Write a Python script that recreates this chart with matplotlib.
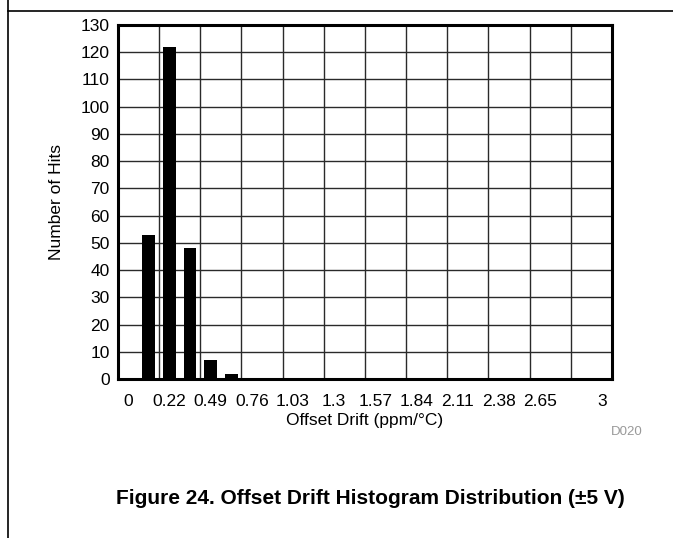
import matplotlib
matplotlib.use("Agg")
import matplotlib.pyplot as plt
from matplotlib.lines import Line2D
import numpy as np

plt.rcParams['font.family'] = ['Liberation Sans', 'DejaVu Sans']

# Histogram bins (24 categories), hit counts
counts = [0, 53, 122, 48, 7, 2, 0, 0, 0, 0, 0, 0,
          0, 0, 0, 0, 0, 0, 0, 0, 0, 0, 0, 0]
tick_labels = ['0', '0.22', '0.49', '0.76', '1.03', '1.3', '1.57',
               '1.84', '2.11', '2.38', '2.65', '3']
tick_bins = [0, 2, 4, 6, 8, 10, 12, 14, 16, 18, 20, 23]
y_ticks = list(range(0, 131, 10))

fig = plt.figure(figsize=(6.73, 5.38), dpi=100)
ax = fig.add_axes([118/673, 1 - 379/538, 494/673, 354/538])

x = np.arange(len(counts))
ax.bar(x, counts, width=0.62, color='black', zorder=3)

ax.set_xlim(-0.5, len(counts) - 0.5)
ax.set_ylim(0, 130)
ax.set_yticks(y_ticks)
ax.set_xticks(tick_bins)
ax.set_xticklabels(tick_labels)
ax.tick_params(axis='both', length=0, labelsize=12.5)
ax.tick_params(axis='x', pad=10.5)
ax.tick_params(axis='y', pad=6)

for yv in y_ticks[1:-1]:
    ax.axhline(yv, color='#2a2a2a', lw=1.0, zorder=1)
for xv in np.arange(1.5, len(counts) - 1, 2):
    ax.axvline(xv, color='#2a2a2a', lw=1.0, zorder=1)

for s in ax.spines.values():
    s.set_linewidth(2.2)
    s.set_zorder(4)

ax.set_xlabel('Offset Drift (ppm/\u00b0C)', fontsize=12.5, labelpad=3)
ax.set_ylabel('Number of Hits', fontsize=12.5, labelpad=12)

fig.text(643/673, 1 - 432/538, 'D020', color='#999999', fontsize=9.5,
         ha='right', va='center')
fig.text(370/673, 1 - 499/538,
         'Figure 24. Offset Drift Histogram Distribution (\u00b15 V)',
         fontsize=15, fontweight='bold', ha='center', va='center')

fig.add_artist(Line2D([7.5/673, 7.5/673], [0, 1], color='black', lw=1.2,
                      transform=fig.transFigure))
fig.add_artist(Line2D([7.5/673, 1], [1 - 11/538, 1 - 11/538], color='black',
                      lw=1.2, transform=fig.transFigure))

fig.savefig('out.png', dpi=100)
